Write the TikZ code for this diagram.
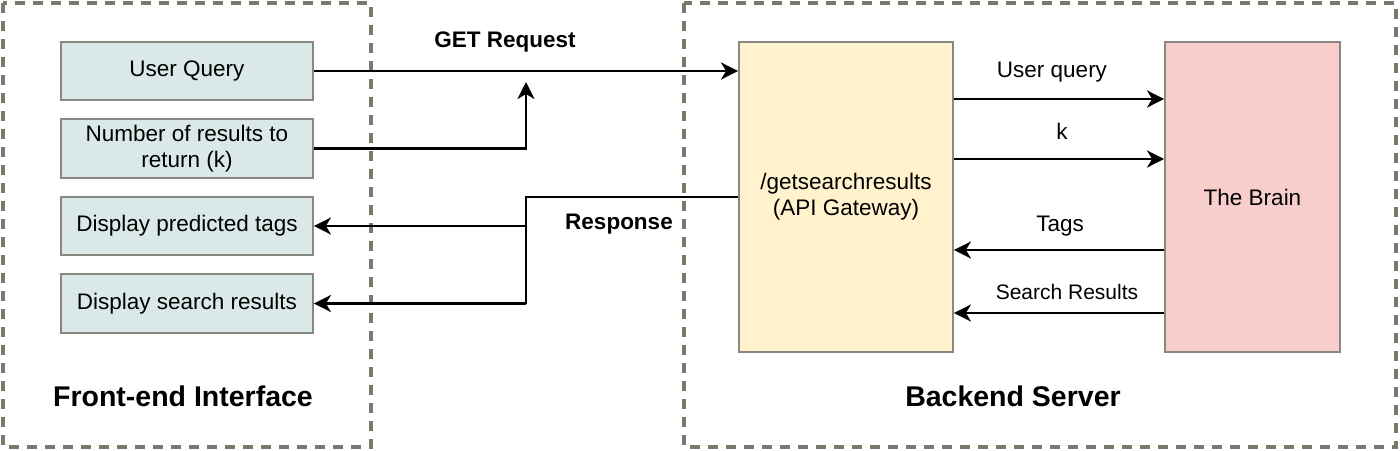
\documentclass[tikz,border=0pt]{standalone}
\usepackage{fontspec}
\setmainfont{Liberation Sans}
\usetikzlibrary{arrows.meta}
\definecolor{frontfill}{RGB}{218,232,232}
\definecolor{apifill}{RGB}{255,242,204}
\definecolor{brainfill}{RGB}{248,206,204}
\definecolor{boxline}{RGB}{136,136,128}
\definecolor{dashline}{RGB}{120,120,108}
\tikzset{
  box/.style={draw=boxline, line width=1.8pt, inner sep=2pt, align=center,
    font=\fontsize{22.5}{26}\selectfont, text=black},
  fbox/.style={box, fill=frontfill, minimum width=252pt},
  group/.style={draw=dashline, line width=3.2pt, dash pattern=on 10pt off 8pt},
  arr/.style={line width=2.8pt, -{Stealth[length=17pt,width=17pt,inset=5pt]}},
  wire/.style={line width=2.8pt},
  lbl/.style={font=\fontsize{22.5}{26}\selectfont, text=black, inner sep=0pt},
  blbl/.style={font=\bfseries\fontsize{22.5}{26}\selectfont, text=black, inner sep=0pt},
  title/.style={font=\bfseries\fontsize{28.5}{32}\selectfont, text=black, inner sep=0pt}
}
\begin{document}
\begin{tikzpicture}[x=1pt,y=-1pt]
\useasboundingbox (0,0) rectangle (1400,450);
% groups
\draw[group] (3,3) rectangle (371,447);
\draw[group] (684,3) rectangle (1396,447);
% front-end boxes
\node[fbox, minimum height=58pt] (uq) at (187,71) {\raisebox{-3pt}{User Query}};
\node[fbox, minimum height=59pt] (num) at (187,148.5) {\raisebox{-3pt}{Number of results to}\\\raisebox{-3pt}{return (k)}};
\node[fbox, minimum height=58pt] (tags) at (187,226) {\raisebox{-2pt}{Display predicted tags}};
\node[fbox, minimum height=59pt] (res) at (187,303.5) {\raisebox{-2pt}{Display search results}};
\node[title] (ftitle) at (183,396) {Front-end Interface};
% backend boxes
\node[box, fill=apifill, minimum width=214pt, minimum height=310pt] (api) at (846,197) {/getsearchresults\\(API Gateway)};
\node[box, fill=brainfill, minimum width=175pt, minimum height=310pt] (brain) at (1252.5,197) {The Brain};
\node[title] (btitle) at (1013,396) {Backend Server};
% helper coordinates
\coordinate (join) at (526,82);
\coordinate (rs) at (526,197);
\coordinate (yq) at (0,99);
\coordinate (yk) at (0,159);
\coordinate (yt) at (0,250);
\coordinate (ys) at (0,313);
% front-end connectors
\draw[arr] (uq.east) -- (uq.east -| api.west);
\draw[arr] (num.east) -| (join);
\draw[wire] (api.west) -- (rs) -- (rs |- res.east);
\draw[arr] (rs |- tags.east) -- (tags.east);
\draw[arr] (rs |- res.east) -- (res.east);
\node[blbl] (getlbl) at (505,42) {GET Request};
\node[blbl] (resplbl) at (619,224) {Response};
% backend connectors
\draw[arr] (api.east |- yq) -- (brain.west |- yq);
\draw[arr] (api.east |- yk) -- (brain.west |- yk);
\draw[arr] (brain.west |- yt) -- (api.east |- yt);
\draw[arr] (brain.west |- ys) -- (api.east |- ys);
\node[lbl] (l1) at (1052,72) {User query};
\node[lbl] (l2) at (1062,131) {k};
\node[lbl] (l3) at (1060,226) {Tags};
\node[lbl, font=\fontsize{21}{24}\selectfont] (l4) at (1067,292) {Search Results};
\end{tikzpicture}
\end{document}
